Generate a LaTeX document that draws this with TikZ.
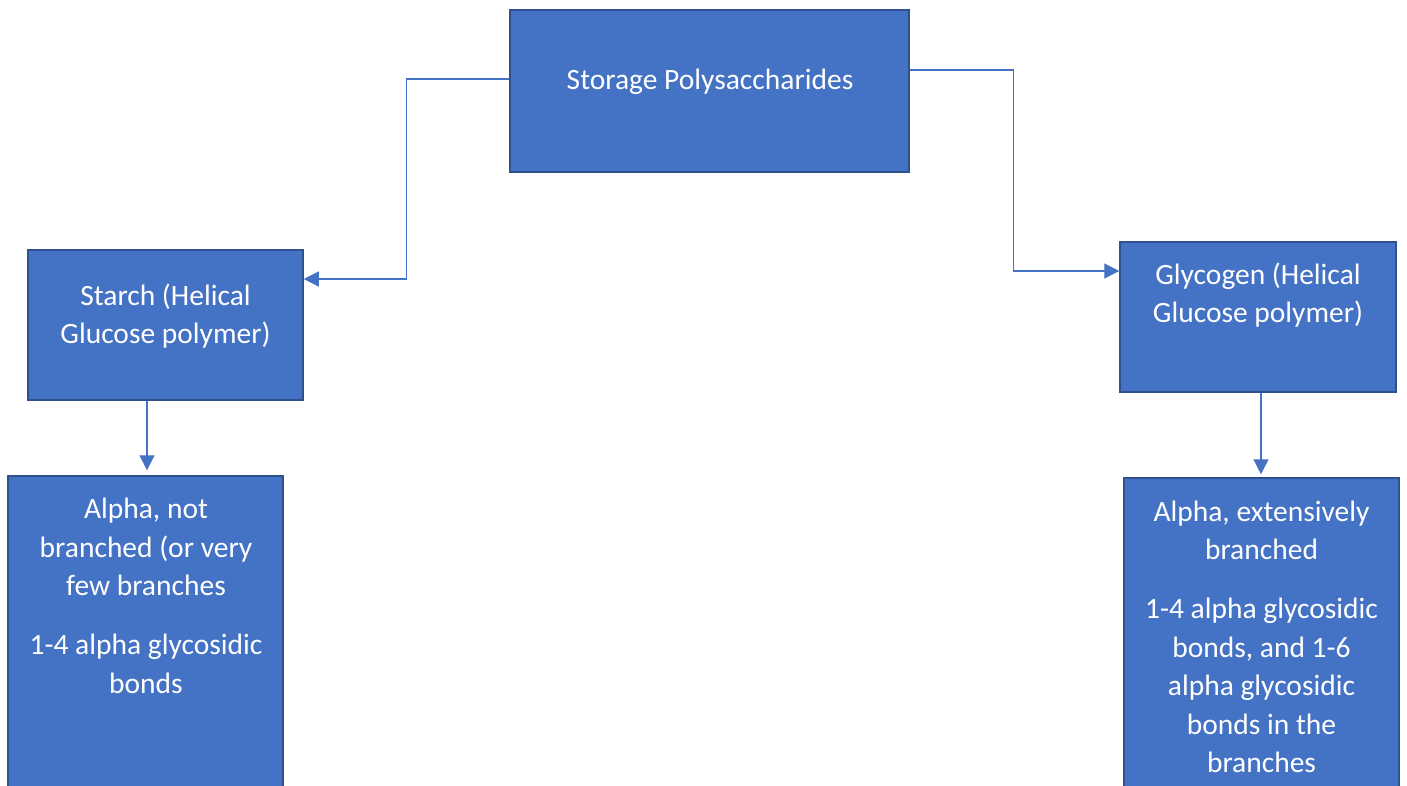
\documentclass[tikz,border=0pt]{standalone}
\usepackage{fontspec}
\setmainfont{Carlito}
\usetikzlibrary{arrows.meta}
\definecolor{boxfill}{HTML}{4472C4}
\definecolor{boxedge}{HTML}{2F528F}
\tikzset{
  box/.style={draw=boxedge, fill=boxfill, line width=1.5pt, inner sep=0pt},
  txt/.style={text=white, align=center, font=\fontsize{29.5}{38.5}\selectfont, inner sep=0pt},
  conn/.style={draw=boxfill, line width=1.2pt, -{Triangle[length=15pt,width=15pt]}}
}
\begin{document}
\begin{tikzpicture}[x=1pt,y=-1pt]
\useasboundingbox (0,0) rectangle (1407,785);
\clip (0,0) rectangle (1407,785);
\node[box, minimum width=399pt, minimum height=162pt] (top) at (709.5,91) {};
\node[txt] (toptxt) at (710,82) {Storage Polysaccharides};
\node[box, minimum width=275pt, minimum height=150pt] (starch) at (165.5,325) {};
\node[txt] (starchtxt) at (165.5,316) {Starch (Helical\\Glucose polymer)};
\node[box, minimum width=276pt, minimum height=150pt] (glyc) at (1258,317) {};
\node[txt] (glyctxt) at (1258,295) {Glycogen (Helical\\Glucose polymer)};
\node[box, minimum width=275pt, minimum height=324pt] (bl) at (145.5,638) {};
\node[txt] (bltxt) at (146,596) {Alpha, not\\branched (or very\\few branches\\[20.5pt]1-4 alpha glycosidic\\bonds};
\node[box, minimum width=275pt, minimum height=322pt] (br) at (1261.5,639) {};
\node[txt] (brtxt) at (1261.5,637) {Alpha, extensively\\branched\\[20.5pt]1-4 alpha glycosidic\\bonds, and 1-6\\alpha glycosidic\\bonds in the\\branches};
\draw[conn] ([yshift=12pt]top.west) -- ++(-103,0) |- ([yshift=46pt]starch.east);
\draw[conn] ([yshift=21pt]top.east) -- ++(104,0) |- ([yshift=46pt]glyc.west);
\draw[conn, shorten >=5pt] ([xshift=-18.5pt]starch.south) -- ([xshift=1.5pt]bl.north);
\draw[conn, shorten >=3pt] ([xshift=3pt]glyc.south) -- ([xshift=-0.5pt]br.north);
\end{tikzpicture}
\end{document}
